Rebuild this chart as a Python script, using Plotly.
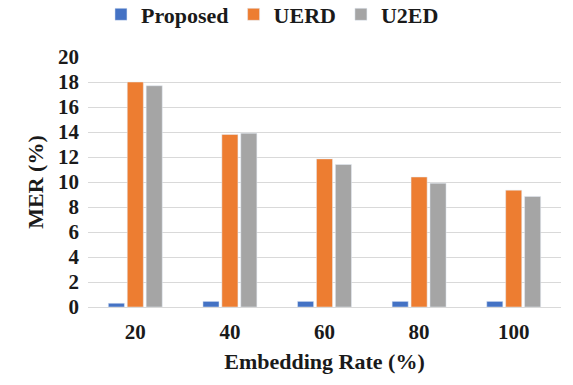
import plotly.graph_objects as go

categories = ["20", "40", "60", "80", "100"]
proposed = [0.3, 0.45, 0.45, 0.45, 0.45]
uerd = [18.0, 13.8, 11.85, 10.4, 9.35]
u2ed = [17.7, 13.9, 11.4, 9.9, 8.85]

font_family = "Liberation Serif"

fig = go.Figure()
fig.add_trace(go.Bar(name="Proposed", x=categories, y=proposed, marker_color="#4472C4"))
fig.add_trace(go.Bar(name="UERD", x=categories, y=uerd, marker_color="#ED7D31"))
fig.add_trace(go.Bar(name="U2ED", x=categories, y=u2ed, marker_color="#A5A5A5"))

fig.update_layout(
    width=573, height=385,
    margin=dict(l=88, r=12, t=57, b=78, autoexpand=False),
    paper_bgcolor="white", plot_bgcolor="white",
    barmode="group", bargap=0.4, bargroupgap=0.15,
    font=dict(family=font_family, color="#1a1a1a"),
    legend=dict(orientation="h", x=0.39, xanchor="center", y=1.17, yanchor="middle",
                font=dict(family=font_family, size=22, color="#1a1a1a", weight="bold"),
                itemwidth=30, traceorder="normal"),
    xaxis=dict(showgrid=False, showline=False, ticks="", ticklabelstandoff=10,
               tickfont=dict(family=font_family, size=21, weight="bold"),
               title=dict(text="<b>Embedding Rate (%)</b>", font=dict(family=font_family, size=22), standoff=10)),
    yaxis=dict(range=[0, 20], dtick=2, showgrid=True, gridcolor="#D9D9D9", gridwidth=1,
               zeroline=True, zerolinecolor="#D9D9D9", zerolinewidth=1, ticklabelstandoff=8,
               tickfont=dict(family=font_family, size=21, weight="bold"),
               title=dict(text="<b>MER (%)</b>", font=dict(family=font_family, size=22), standoff=8)),
)

fig.write_html("out.html")
